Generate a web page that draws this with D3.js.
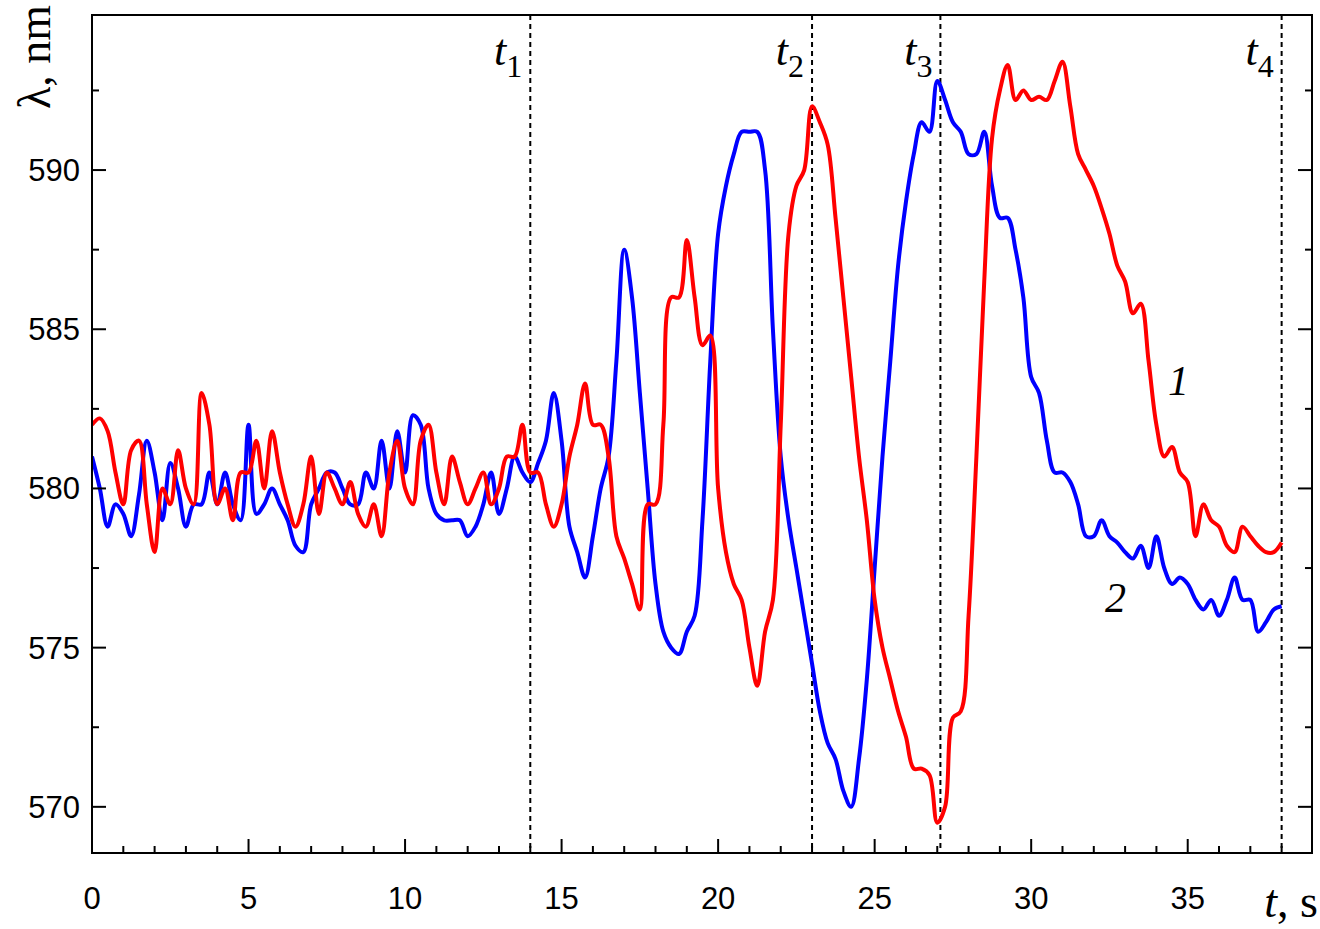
<!DOCTYPE html><html><head><meta charset="utf-8"><script src="https://cdn.jsdelivr.net/npm/d3@7"></script>
<style>body{margin:0;background:#fff}</style></head><body><svg id="c" width="1320" height="929"></svg><script>
const times=d3.range(0,38.001,0.25);
const red=[582,582.2,581.8,580.5,579.5,581.2,581.5,579.5,578,580,579.5,581.2,580,579.5,583,582,579.5,580,579,580.5,580.5,581.5,580,581.8,580.5,579.5,578.8,579.5,581,579.2,580.5,580,579.5,580.2,579.2,578.8,579.5,578.5,580.5,581.5,580,579.5,581.5,582,580.5,579.5,581,580.2,579.5,580,580.5,579.5,580,581,581,582,580.5,580.5,579.5,578.8,579.5,581,582,583.3,582,582,581,578.5,577.8,577,576.2,579.5,579.5,582,586,586,587.8,586,584.5,584.8,580,578,577,576.5,575,573.8,575.5,576.5,582,588,589.5,590,592,591.5,590.8,588.5,586,583.5,581,579,576.5,575,574,573,572.2,571.2,571.2,571,569.5,570,572.8,573,576,581,586.5,591,592.5,593.3,592.2,592.5,592.2,592.3,592.2,592.8,593.4,592,590.5,590,589.5,588.8,588,587,586.5,585.5,585.8,584,582,581,581.3,580.5,580.2,578.5,579.5,579,578.8,578.2,578,578.8,578.5,578.2,578,578,578.3];
const blue=[581,580,578.8,579.5,579.2,578.5,579.8,581.5,580.5,579,580.8,580,578.8,579.5,579.5,580.5,579.5,580.5,579.5,579,582,579.2,579.5,580,579.5,579,578.2,578,579.5,580,580.5,580.5,580,579.5,579.5,580.5,580,581.5,580,581.8,580.5,582.3,582,580,579.2,579,579,579,578.5,578.8,579.5,580.5,579.2,580,581,580.5,580.2,580.8,581.5,583,581.5,578.8,578,577.2,578.5,580,581,584,587.5,586,583,580,577,575.5,575,574.8,575.5,576,579,584,588,589.5,590.5,591.2,591.2,591.2,590,585,581,579,577.5,576,574.5,573,572,571.5,570.5,570,571.5,574,577.5,581,584,587,589,590.5,591.5,591.2,592.8,592.2,591.5,591.2,590.5,590.5,591.2,589.5,588.5,588.5,587.5,586,583.5,583,581.5,580.5,580.5,580.2,579.5,578.5,578.5,579,578.5,578.3,578,577.8,578.2,577.5,578.5,577.5,577,577.2,577,576.5,576.2,576.5,576,576.5,577.2,576.5,576.5,575.5,575.8,576.2,576.3];
const xTicks=[0,5,10,15,20,25,30,35];
const yTicks=[570,575,580,585,590];
const markers=[{t:14,n:"1"},{t:23,n:"2"},{t:27.1,n:"3"},{t:38,n:"4"}];
const svg=d3.select("#c");
const L=92,R=1312,T=15,B=853;
const x=d3.scaleLinear().domain([0,38.97]).range([L,R]);
const y=d3.scaleLinear().domain([568.55,594.87]).range([B,T]);
const g=svg.append("g");
svg.append("clipPath").attr("id","cl").append("rect").attr("x",L).attr("y",T).attr("width",R-L).attr("height",B-T);
markers.forEach(m=>{g.append("line").attr("x1",x(m.t)).attr("x2",x(m.t)).attr("y1",T).attr("y2",B).attr("stroke","#000").attr("stroke-width",2).attr("stroke-dasharray","5,4");
 const tx=g.append("text").attr("x",x(m.t)-8).attr("y",65).attr("text-anchor","end").attr("font-family","Liberation Serif").attr("font-size",44);
 tx.append("tspan").attr("font-style","italic").text("t");tx.append("tspan").attr("font-size",32).attr("dy",12).text(m.n);});
const line=d3.line().x((d,i)=>x(times[i])).y(d=>y(d)).curve(d3.curveCatmullRom);
g.append("path").attr("d",line(blue)).attr("fill","none").attr("stroke","#0000ff").attr("stroke-width",4).attr("clip-path","url(#cl)");
g.append("path").attr("d",line(red)).attr("fill","none").attr("stroke","#ff0000").attr("stroke-width",4).attr("clip-path","url(#cl)");
g.append("rect").attr("x",L).attr("y",T).attr("width",R-L).attr("height",B-T).attr("fill","none").attr("stroke","#000").attr("stroke-width",2);
d3.range(0,39,1).forEach(v=>{const big=v%5==0;g.append("line").attr("x1",x(v)).attr("x2",x(v)).attr("y1",B).attr("y2",B-(big?14:7)).attr("stroke","#000").attr("stroke-width",2);});
xTicks.forEach(v=>g.append("text").attr("x",x(v)).attr("y",B+56).attr("text-anchor","middle").attr("font-family","Liberation Sans").attr("font-size",31).text(v));
d3.range(570,595,2.5).forEach(v=>{const big=v%5==0;[[L,1],[R,-1]].forEach(([p,s])=>g.append("line").attr("x1",p).attr("x2",p+s*(big?14:7)).attr("y1",y(v)).attr("y2",y(v)).attr("stroke","#000").attr("stroke-width",2));});
yTicks.forEach(v=>g.append("text").attr("x",L-12).attr("y",y(v)+11).attr("text-anchor","end").attr("font-family","Liberation Sans").attr("font-size",31).text(v));
const xl=g.append("text").attr("x",1318).attr("y",917).attr("text-anchor","end").attr("font-family","Liberation Serif").attr("font-size",46);
xl.append("tspan").attr("font-style","italic").text("t");xl.append("tspan").text(", s");
g.append("text").attr("transform","translate(50,5) rotate(-90)").attr("text-anchor","end").attr("font-family","Liberation Serif").attr("font-size",46).text("λ, nm");
g.append("text").attr("x",1168).attr("y",395).attr("font-family","Liberation Serif").attr("font-style","italic").attr("font-size",42).text("1");
g.append("text").attr("x",1105).attr("y",612).attr("font-family","Liberation Serif").attr("font-style","italic").attr("font-size",42).text("2");
</script></body></html>
